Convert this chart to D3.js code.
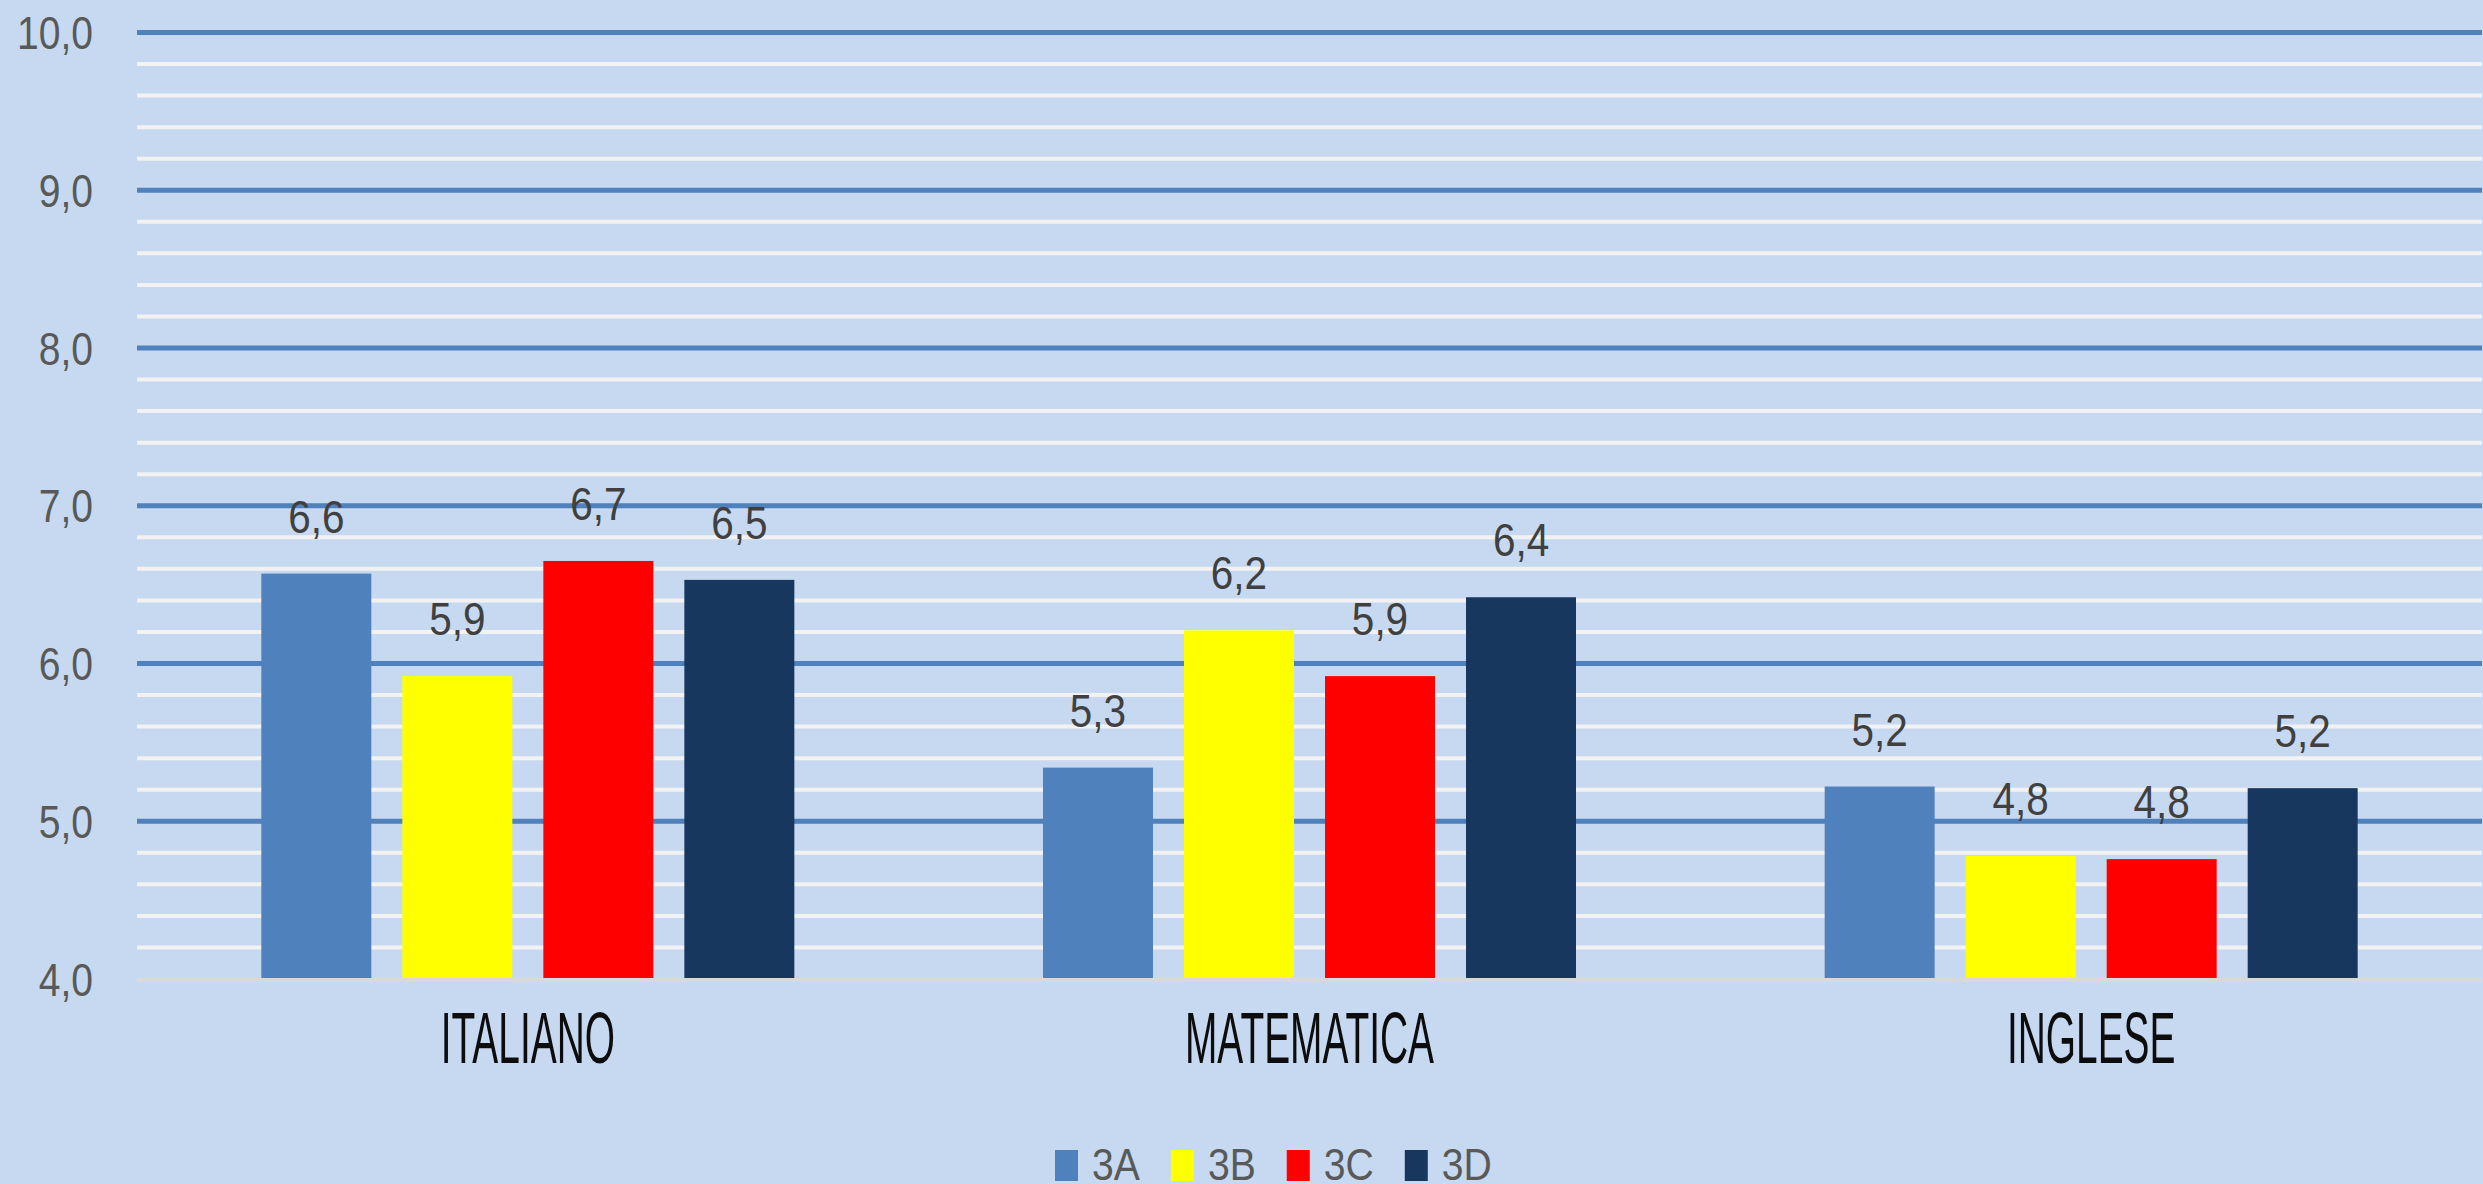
<!DOCTYPE html>
<html>
<head>
<meta charset="utf-8">
<script src="https://cdn.jsdelivr.net/npm/d3@7"></script>
<style>
  html, body { margin: 0; padding: 0; background: #c6d9f0; overflow: hidden; }
  svg { display: block; }
  text { font-family: "Liberation Sans", Arial, sans-serif; }
</style>
</head>
<body>
<script>
// chart data
const categories = ["ITALIANO", "MATEMATICA", "INGLESE"];
const series = ["3A", "3B", "3C", "3D"];
const values3A = [6.57, 5.34, 5.22];
const values3B = [5.92, 6.21, 4.78];
const values3C = [6.65, 5.92, 4.76];
const values3D = [6.53, 6.42, 5.21];
const seriesColors = ["#4f81bd", "#ffff00", "#ff0000", "#17375e"];
const yTicks = [4, 5, 6, 7, 8, 9, 10];
const yMinorTicks = d3.range(40, 101, 2).map(d => d / 10);

const seriesValues = [values3A, values3B, values3C, values3D];

const width = 2483, height = 1184;
const margin = {top: 32.5, right: 1, bottom: 205, left: 137};

const svg = d3.select("body").append("svg")
  .attr("width", width)
  .attr("height", height);

svg.append("rect")
  .attr("width", width).attr("height", height)
  .attr("fill", "#c6d9f0");

// scales
const y = d3.scaleLinear()
  .domain([4, 10])
  .range([height - margin.bottom, margin.top]);

const x0 = d3.scaleBand()
  .domain(categories)
  .range([margin.left, width - margin.right])
  .padding(0);

const groupW = 533;
const x1 = d3.scaleBand()
  .domain(series)
  .range([0, groupW])
  .paddingInner(0.22);

const fmt = v => d3.format(".1f")(v).replace(".", ",");

// minor grid lines (white)
svg.append("g")
  .selectAll("line")
  .data(yMinorTicks.filter(d => d % 1 !== 0))
  .enter().append("line")
  .attr("x1", margin.left).attr("x2", width - margin.right)
  .attr("y1", d => y(d)).attr("y2", d => y(d))
  .attr("stroke", "#f2f2f2")
  .attr("stroke-width", 4);

// major grid lines (blue)
svg.append("g")
  .selectAll("line")
  .data(yTicks.filter(d => d > 4))
  .enter().append("line")
  .attr("x1", margin.left).attr("x2", width - margin.right)
  .attr("y1", d => y(d)).attr("y2", d => y(d))
  .attr("stroke", "#4f81bd")
  .attr("stroke-width", 5);

// y axis labels
const yAxis = d3.axisLeft(y)
  .tickValues(yTicks)
  .tickSize(0)
  .tickPadding(0)
  .tickFormat(fmt);

const yAxisG = svg.append("g")
  .attr("transform", "translate(93,0)")
  .call(yAxis);
yAxisG.select(".domain").remove();
// tick groups already sit at y(d); only nudge the text down to centre it
yAxisG.selectAll("text")
  .attr("font-size", 46)
  .attr("fill", "#595959")
  .attr("dy", null)
  .attr("x", null)
  .attr("text-anchor", "end")
  .attr("transform", "translate(0,16) scale(0.85,1)");

// bars
const groups = svg.append("g")
  .selectAll("g")
  .data(categories)
  .enter().append("g")
  .attr("transform", d => "translate(" + (x0(d) + (x0.bandwidth() - groupW) / 2) + ",0)");

groups.selectAll("rect")
  .data((c, i) => series.map((s, j) => ({s: s, v: seriesValues[j][i], color: seriesColors[j]})))
  .enter().append("rect")
  .attr("x", d => x1(d.s))
  .attr("width", x1.bandwidth())
  .attr("y", d => y(d.v))
  .attr("height", d => y(4) - y(d.v))
  .attr("fill", d => d.color);

// data labels
groups.selectAll("text.val")
  .data((c, i) => series.map((s, j) => ({s: s, v: seriesValues[j][i]})))
  .enter().append("text")
  .attr("class", "val")
  .attr("text-anchor", "middle")
  .attr("font-size", 46)
  .attr("fill", "#404040")
  .attr("transform", d => "translate(" + (x1(d.s) + x1.bandwidth() / 2) + "," + (y(d.v) - 41) + ") scale(0.88,1)")
  .text(d => fmt(d.v));

// baseline
svg.append("line")
  .attr("x1", margin.left).attr("x2", width - margin.right)
  .attr("y1", y(4) + 1).attr("y2", y(4) + 1)
  .attr("stroke", "#d9d9d9")
  .attr("stroke-width", 4);

// x axis category labels
const xAxis = d3.axisBottom(x0).tickSize(0).tickPadding(0);
const xAxisG = svg.append("g")
  .call(xAxis);
xAxisG.select(".domain").remove();
xAxisG.selectAll(".tick")
  .attr("transform", d => "translate(" + (x0(d) + x0.bandwidth() / 2) + ",1063)");
xAxisG.selectAll("text")
  .attr("y", null)
  .attr("dy", null)
  .attr("font-size", 72)
  .attr("fill", "#0d0d0d")
  .attr("transform", "scale(0.54,1)");

// legend
const legend = svg.append("g");
let lx = 1055;
series.forEach((s, j) => {
  legend.append("rect")
    .attr("x", lx).attr("y", 1150)
    .attr("width", 23).attr("height", 31)
    .attr("fill", seriesColors[j]);
  const t = legend.append("text")
    .attr("font-size", 45)
    .attr("fill", "#595959")
    .attr("transform", "translate(" + (lx + 37) + ",1180) scale(0.87,1)")
    .text(s);
  const w = t.node().getComputedTextLength() * 0.87;
  lx = lx + 37 + w + 31;
});
</script>
</body>
</html>
